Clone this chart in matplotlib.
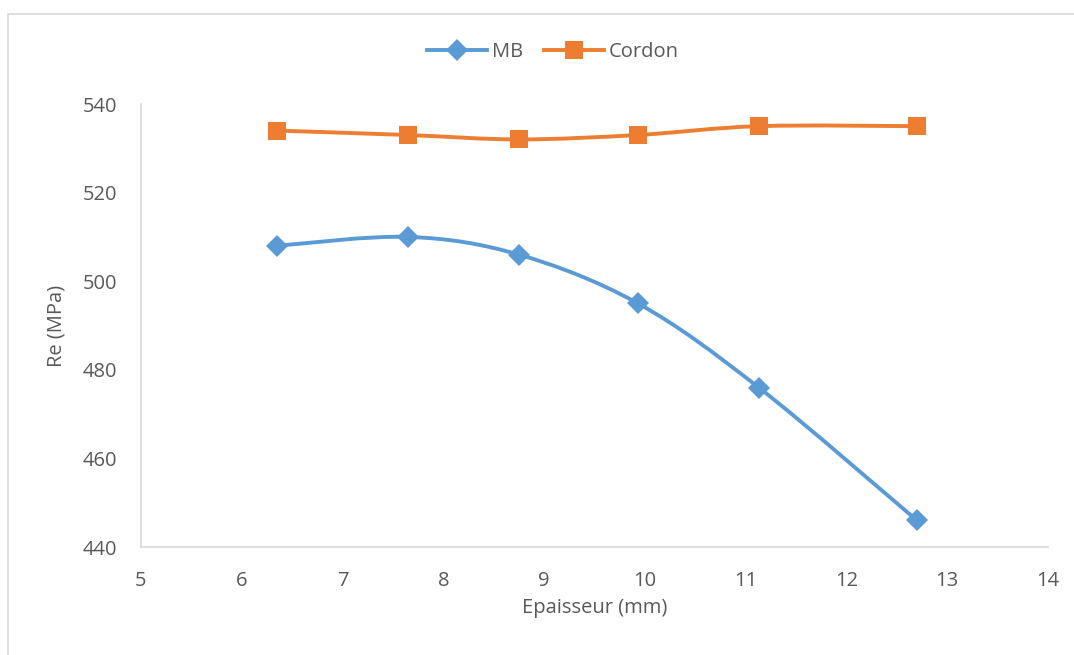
import numpy as np
import matplotlib.pyplot as plt
from matplotlib.path import Path
from matplotlib.patches import PathPatch, Rectangle
from matplotlib.lines import Line2D

plt.rcParams['font.family'] = ['Open Sans', 'DejaVu Sans']

epaisseur = [6.35, 7.65, 8.75, 9.93, 11.13, 12.7]
re_mb = [508, 510, 506, 495, 476, 446]
re_cordon = [534, 533, 532, 533, 535, 535]

BLUE = '#5b9bd5'
ORANGE = '#ed7d31'
TEXT = '#595959'
AXIS = '#d9d9d9'


def smooth_path(xs, ys, tension=1 / 6):
    # cubic Bezier through the points, like a spreadsheet "smoothed line"
    pts = np.column_stack([xs, ys]).astype(float)
    n = len(pts)
    verts = [pts[0]]
    codes = [Path.MOVETO]
    for i in range(n - 1):
        p0 = pts[i - 1] if i > 0 else pts[i]
        p1 = pts[i]
        p2 = pts[i + 1]
        p3 = pts[i + 2] if i + 2 < n else pts[i + 1]
        c1 = p1 + (p2 - p0) * tension
        c2 = p2 - (p3 - p1) * tension
        verts += [c1, c2, p2]
        codes += [Path.CURVE4] * 3
    return Path(verts, codes)


fig = plt.figure(figsize=(10.74, 6.55), dpi=100)
ax = fig.add_axes([141 / 1074, 1 - 547 / 655, (1048 - 141) / 1074, (547 - 104) / 655])

fig.patches.append(Rectangle((8 / 1074, -0.1), 1.2, 1 - 14 / 655 + 0.1,
                             transform=fig.transFigure, fill=False,
                             edgecolor=AXIS, linewidth=1.2))

for ys, color, marker, ms in [(re_mb, BLUE, 'D', 11), (re_cordon, ORANGE, 's', 12.5)]:
    ax.add_patch(PathPatch(smooth_path(epaisseur, ys), fill=False,
                           edgecolor=color, linewidth=2.8, capstyle='round'))
    ax.plot(epaisseur, ys, linestyle='none', marker=marker, markersize=ms,
            color=color, markeredgewidth=0)

ax.set_xlim(5, 14)
ax.set_ylim(440, 540)
ax.set_xticks(range(5, 15))
ax.set_yticks(range(440, 541, 20))

for side in ['top', 'right']:
    ax.spines[side].set_visible(False)
for side in ['left', 'bottom']:
    ax.spines[side].set_color(AXIS)
    ax.spines[side].set_linewidth(1.2)
ax.tick_params(length=0, labelsize=14.5, labelcolor=TEXT)
ax.tick_params(axis='x', pad=17)
ax.tick_params(axis='y', pad=17)

ax.set_xlabel('Epaisseur (mm)', fontsize=14.5, color=TEXT, labelpad=5)
ax.set_ylabel('Re (MPa)', fontsize=14.5, color=TEXT, labelpad=12)

handles = [
    Line2D([], [], color=BLUE, linewidth=2.8, marker='D', markersize=11, markeredgewidth=0),
    Line2D([], [], color=ORANGE, linewidth=2.8, marker='s', markersize=12.5, markeredgewidth=0),
]
fig.legend(handles, ['MB', 'Cordon'], loc='center', bbox_to_anchor=(553 / 1074, 1 - 52 / 655),
           ncol=2, frameon=False, fontsize=14.5, labelcolor=TEXT, handlelength=3.0,
           columnspacing=1.0, handletextpad=0.25)

fig.savefig('out.png', dpi=100)
